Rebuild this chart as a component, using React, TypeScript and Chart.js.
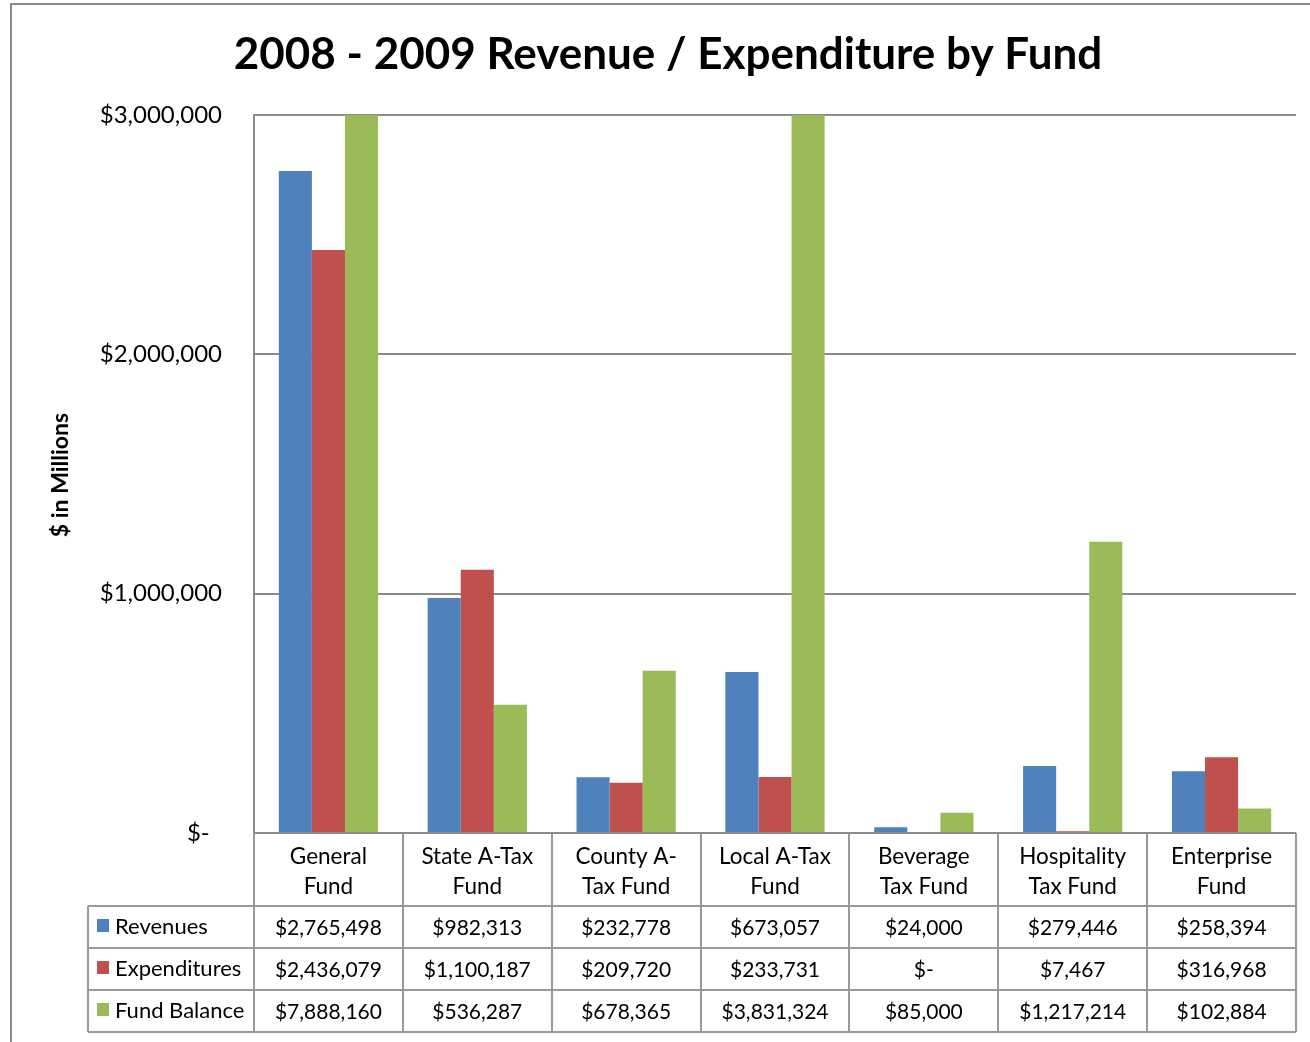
import React, { useEffect, useRef } from "react";
import { Chart, registerables } from "chart.js";

Chart.register(...registerables);

const chartTitle = "2008 - 2009 Revenue / Expenditure by Fund";
const yAxisTitle = "$ in Millions";
const categories = [
  ["General", "Fund"],
  ["State A-Tax", "Fund"],
  ["County A-", "Tax Fund"],
  ["Local A-Tax", "Fund"],
  ["Beverage", "Tax Fund"],
  ["Hospitality", "Tax Fund"],
  ["Enterprise", "Fund"],
];
const seriesNames = ["Revenues", "Expenditures", "Fund Balance"];
const revenues = [2765498, 982313, 232778, 673057, 24000, 279446, 258394];
const expenditures = [2436079, 1100187, 209720, 233731, 0, 7467, 316968];
const fundBalance = [7888160, 536287, 678365, 3831324, 85000, 1217214, 102884];
const seriesColors = ["#4F81BD", "#C0504D", "#9BBB59"];
const yTickValues = [0, 1000000, 2000000, 3000000];

const FONT = "Lato, 'Open Sans', sans-serif";
const GRID = "#8c8c8c";
const TABLE_LINE = "#9a9a9a";

const fmtMoney = (v: number) => (v === 0 ? "$-" : "$" + v.toLocaleString("en-US"));
const fmtTick = (v: number) => (v === 0 ? "$-  " : "$" + v.toLocaleString("en-US"));

const allSeries = [revenues, expenditures, fundBalance];

const decorPlugin = {
  id: "decor",
  beforeDraw(chart: any) {
    const ctx = chart.ctx;
    ctx.save();
    ctx.fillStyle = "#ffffff";
    ctx.fillRect(0, 0, chart.width, chart.height);
    ctx.strokeStyle = GRID;
    ctx.lineWidth = 2;
    ctx.strokeRect(11, 4, chart.width + 40, chart.height + 40);
    ctx.restore();
  },
  afterDraw(chart: any) {
    const ctx = chart.ctx;
    const area = chart.chartArea;
    const xs = chart.scales.x;
    const n = categories.length;
    const colW = (area.right - area.left) / n;
    ctx.save();
    // Title
    ctx.fillStyle = "#000";
    ctx.textAlign = "center";
    ctx.textBaseline = "middle";
    ctx.font = `bold 44px ${FONT}`;
    ctx.fillText(chartTitle, 668, 55);
    // Y title
    ctx.save();
    ctx.translate(61, 475);
    ctx.rotate(-Math.PI / 2);
    ctx.font = `bold 23px ${FONT}`;
    ctx.fillText(yAxisTitle, 0, 0);
    ctx.restore();

    // Data table
    const catTop = area.bottom;
    const catBottom = catTop + 73;
    const rowH = 42;
    const tableBottom = catBottom + rowH * seriesNames.length;
    const headLeft = 88;
    ctx.strokeStyle = TABLE_LINE;
    ctx.lineWidth = 2;
    ctx.beginPath();
    for (let i = 0; i <= n; i++) {
      const x = Math.round(area.left + colW * i);
      ctx.moveTo(x, catTop);
      ctx.lineTo(x, tableBottom);
    }
    ctx.moveTo(headLeft, catBottom);
    ctx.lineTo(headLeft, tableBottom);
    for (let r = 0; r <= seriesNames.length; r++) {
      const y = catBottom + rowH * r;
      ctx.moveTo(headLeft, y);
      ctx.lineTo(area.right, y);
    }
    ctx.stroke();
    ctx.beginPath();
    ctx.strokeStyle = GRID;
    ctx.moveTo(area.left, catTop);
    ctx.lineTo(area.right, catTop);
    ctx.stroke();

    ctx.fillStyle = "#000";
    ctx.textAlign = "center";
    ctx.textBaseline = "middle";
    for (let i = 0; i < n; i++) {
      const cx = xs.getPixelForValue(i);
      ctx.font = `22.5px ${FONT}`;
      categories[i].forEach((line, k) => {
        ctx.fillText(line, cx, catTop + 24 + k * 30);
      });
      ctx.font = `21px ${FONT}`;
      allSeries.forEach((s, r) => {
        ctx.fillText(fmtMoney(s[i]), cx, catBottom + rowH * r + rowH / 2 + 1);
      });
    }
    ctx.textAlign = "left";
    ctx.font = `22px ${FONT}`;
    seriesNames.forEach((name, r) => {
      const cy = catBottom + rowH * r + rowH / 2;
      ctx.fillStyle = seriesColors[r];
      ctx.fillRect(97, cy - 8, 12, 13);
      ctx.fillStyle = "#000";
      ctx.fillText(name, 115, cy);
    });
    ctx.restore();
  },
};

export default function App() {
  const ref = useRef<HTMLCanvasElement | null>(null);
  useEffect(() => {
    if (!ref.current) return;
    const chart = new Chart(ref.current, {
      type: "bar",
      data: {
        labels: categories.map((c) => c.join(" ")),
        datasets: seriesNames.map((name, i) => ({
          label: name,
          data: allSeries[i],
          backgroundColor: seriesColors[i],
          borderWidth: 0,
          categoryPercentage: 0.6667,
          barPercentage: 1,
        })),
      },
      options: {
        responsive: false,
        animation: false,
        layout: { padding: { top: 115, right: 14, bottom: 209, left: 0 } },
        plugins: {
          legend: { display: false },
          title: { display: false },
          tooltip: { enabled: false },
        },
        scales: {
          x: { display: false },
          y: {
            min: 0,
            max: 3000000,
            afterFit: (scale: any) => {
              scale.width = 254;
            },
            afterBuildTicks: (scale: any) => {
              scale.ticks = yTickValues.map((v) => ({ value: v }));
            },
            ticks: {
              padding: 32,
              color: "#000",
              font: { family: FONT, size: 24 },
              callback: (v: any) => fmtTick(Number(v)),
            },
            grid: { color: GRID, lineWidth: 2, drawTicks: false },
            border: { display: true, color: GRID, width: 2 },
          },
        },
      },
      plugins: [decorPlugin],
    });
    return () => chart.destroy();
  }, []);
  return (
    <div style={{ position: "absolute", left: 0, top: 0, width: 1310, height: 1042 }}>
      <canvas ref={ref} width={1310} height={1042} style={{ width: 1310, height: 1042, display: "block" }} />
    </div>
  );
}
